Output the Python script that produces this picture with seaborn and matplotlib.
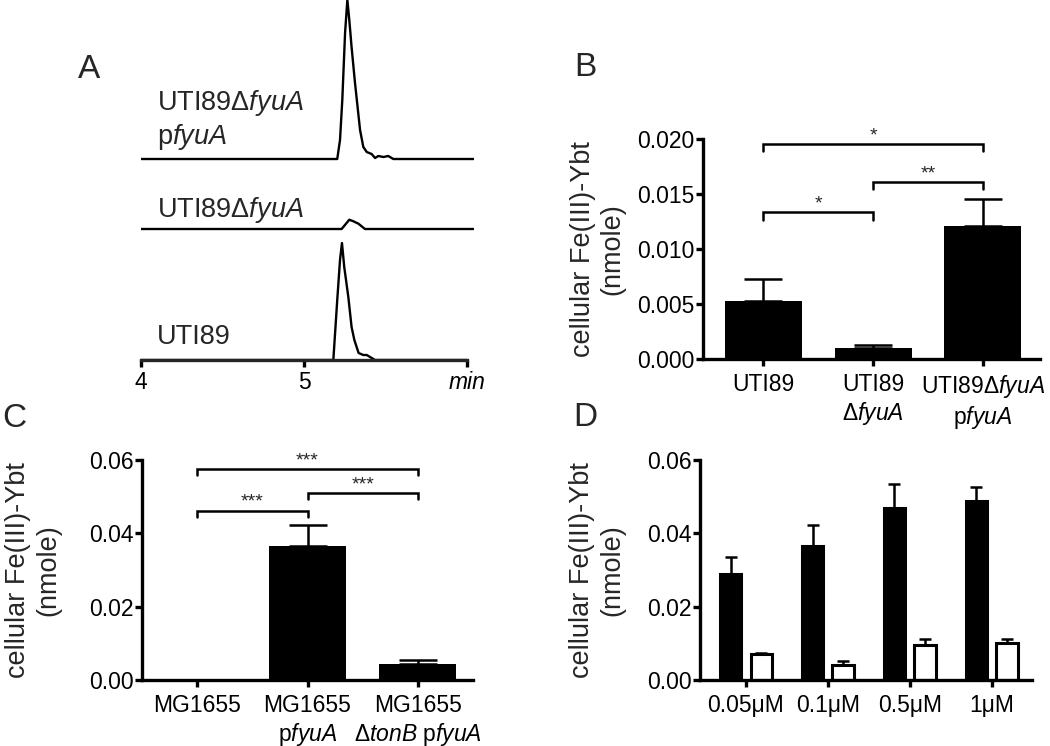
import matplotlib
matplotlib.use("Agg")
import matplotlib.pyplot as plt
import numpy as np
import pandas as pd
import seaborn as sns
from matplotlib.ticker import FormatStrFormatter

# ---- panel A: LC traces (time in min, signal in arbitrary units) ----
top_t = [4.0, 5.204, 5.221, 5.235, 5.252, 5.266, 5.278, 5.292, 5.313, 5.344, 5.364,
         5.385, 5.415, 5.436, 5.456, 5.487, 5.517, 5.548, 6.04]
top_y = [0, 0, 19, 59, 126, 159, 139, 112, 76, 29, 12, 7, 5, 1, 3, 2, 3, 0, 0]
mid_t = [4.0, 5.231, 5.278, 5.303, 5.334, 5.374, 6.04]
mid_y = [0, 0, 9.3, 7.7, 5.3, 0, 0]
bot_t = [4.0, 5.18, 5.204, 5.221, 5.233, 5.247, 5.272, 5.292, 5.309, 5.335, 5.364,
         5.385, 5.405, 5.436, 6.0]
bot_y = [0, 0, 60, 100, 117, 93, 63, 33, 20, 7, 5, 5, 3, 0, 0]

# ---- panel B ----
b_strains = ["UTI89", "UTI89\nΔ$\\mathit{fyuA}$", "UTI89Δ$\\mathit{fyuA}$\np$\\mathit{fyuA}$"]
b_mean = [0.00524, 0.00100, 0.01206]
b_sem = [0.00203, 0.00024, 0.00246]
b_pairs = [(0, 1), (1, 2), (0, 2)]
b_bracket_y = [0.01333, 0.01609, 0.01955]
b_stars = ["*", "**", "*"]

# ---- panel C ----
c_strains = ["MG1655", "MG1655\np$\\mathit{fyuA}$", "MG1655\nΔ$\\mathit{tonB}$ p$\\mathit{fyuA}$"]
c_mean = [0.0, 0.03664, 0.00427]
c_sem = [0.0, 0.00572, 0.00118]
c_pairs = [(0, 1), (1, 2), (0, 2)]
c_bracket_y = [0.04618, 0.05090, 0.05745]
c_stars = ["***", "***", "***"]

# ---- panel D ----
d_conc = ["0.05μM", "0.1μM", "0.5μM", "1μM"]
d_filled_mean = [0.02882, 0.03664, 0.04691, 0.04891]
d_filled_sem = [0.00463, 0.00572, 0.00645, 0.00364]
d_open_mean = [0.00709, 0.00409, 0.00964, 0.01018]
d_open_sem = [0.00018, 0.00118, 0.00163, 0.00109]

sns.set_theme(style="ticks")
plt.rcParams["font.family"] = ["Liberation Sans", "DejaVu Sans"]
plt.rcParams["mathtext.fontset"] = "custom"
plt.rcParams["mathtext.rm"] = "Liberation Sans"
plt.rcParams["mathtext.it"] = "Liberation Sans:italic"
plt.rcParams["mathtext.bf"] = "Liberation Sans:bold"

W, H = 1050, 746
fig = plt.figure(figsize=(W / 100, H / 100), dpi=100)

SPINE_W = 2.4
TICK_FS = 16.5
LABEL_FS = 19.5


def px_axes(left, top, right, bottom):
    return fig.add_axes([left / W, 1 - bottom / H, (right - left) / W, (bottom - top) / H])


def style_axes(ax):
    for s in ["top", "right"]:
        ax.spines[s].set_visible(False)
    for s in ["left", "bottom"]:
        ax.spines[s].set_linewidth(SPINE_W)
        ax.spines[s].set_color("black")
    ax.tick_params(axis="both", colors="black", width=SPINE_W, length=5, labelsize=TICK_FS)
    ax.tick_params(axis="y", pad=1)
    ax.tick_params(axis="x", pad=5)
    ax.set_xlabel("")


def add_brackets(ax, pairs, heights, labels, drop):
    for (i, j), h, lab in zip(pairs, heights, labels):
        ax.plot([i, i, j, j], [h - drop, h, h, h - drop], color="black", lw=1.8,
                clip_on=False, solid_joinstyle="miter")
        ax.annotate(lab, xy=((i + j) / 2, h), xytext=(0, 6), textcoords="offset points",
                    ha="center", va="center", fontsize=14, annotation_clip=False)


# ---- panel A ----
axA = px_axes(141, 0, 473.5, 360)
offsets = {"top": 201, "mid": 131, "bot": 0}
frames = []
for name, t, y in [("top", top_t, top_y), ("mid", mid_t, mid_y), ("bot", bot_t, bot_y)]:
    frames.append(pd.DataFrame({"time": t, "signal": np.array(y, dtype=float) + offsets[name],
                                "trace": name}))
dfA = pd.concat(frames, ignore_index=True)
sns.lineplot(data=dfA, x="time", y="signal", units="trace", estimator=None, sort=False,
             color="black", lw=1.7, ax=axA, legend=False)
axA.set_xlim(4, 6.04)
axA.set_ylim(0, 360)
for s in ["top", "right", "left"]:
    axA.spines[s].set_visible(False)
axA.spines["bottom"].set_linewidth(SPINE_W)
axA.spines["bottom"].set_bounds(4, 6)
axA.set_yticks([])
axA.set_xticks([4, 5, 6])
axA.set_xticklabels(["4", "5", "min"])
axA.get_xticklabels()[2].set_style("italic")
axA.tick_params(axis="x", width=SPINE_W, length=5, labelsize=TICK_FS, pad=3, colors="black")
axA.set_xlabel("")
axA.set_ylabel("")
axA.text(4.098, 240, "UTI89Δ$\\mathit{fyuA}$\np$\\mathit{fyuA}$", fontsize=LABEL_FS,
         ha="left", va="center")
axA.text(4.098, 150, "UTI89Δ$\\mathit{fyuA}$", fontsize=LABEL_FS, ha="left", va="center")
axA.text(4.098, 23, "UTI89", fontsize=LABEL_FS, ha="left", va="center")

# ---- panel B ----
axB = px_axes(703, 139, 1040, 359)
dfB = pd.DataFrame({"strain": b_strains, "mean": b_mean})
sns.barplot(data=dfB, x="strain", y="mean", color="black", width=0.7, errorbar=None,
            linewidth=0, saturation=1, ax=axB)
axB.errorbar(range(len(b_mean)), b_mean, yerr=[np.zeros(len(b_sem)), b_sem], fmt="none",
             ecolor="black", elinewidth=1.8, capsize=14, capthick=1.8)
axB.set_xlim(-0.55, 2.52)
axB.set_ylim(0, 0.020)
axB.set_yticks([0, 0.005, 0.010, 0.015, 0.020])
axB.yaxis.set_major_formatter(FormatStrFormatter("%.3f"))
style_axes(axB)
axB.set_ylabel("cellular Fe(III)-Ybt\n(nmole)", fontsize=LABEL_FS, ha="center", va="center")
axB.yaxis.set_label_coords(-0.312, 0.5)
add_brackets(axB, b_pairs, b_bracket_y, b_stars, 0.00065)

# ---- panel C ----
axC = px_axes(142, 460, 473, 680)
dfC = pd.DataFrame({"strain": c_strains, "mean": c_mean})
sns.barplot(data=dfC, x="strain", y="mean", color="black", width=0.7, errorbar=None,
            linewidth=0, saturation=1, ax=axC)
err_idx = [i for i, s in enumerate(c_sem) if s > 0]
axC.errorbar(err_idx, [c_mean[i] for i in err_idx],
             yerr=[np.zeros(len(err_idx)), [c_sem[i] for i in err_idx]], fmt="none",
             ecolor="black", elinewidth=1.8, capsize=14, capthick=1.8)
axC.set_xlim(-0.5, 2.5)
axC.set_ylim(0, 0.06)
axC.set_yticks([0, 0.02, 0.04, 0.06])
axC.yaxis.set_major_formatter(FormatStrFormatter("%.2f"))
style_axes(axC)
axC.set_ylabel("cellular Fe(III)-Ybt\n(nmole)", fontsize=LABEL_FS, ha="center", va="center")
axC.yaxis.set_label_coords(-0.329, 0.5)
add_brackets(axC, c_pairs, c_bracket_y, c_stars, 0.0016)

# ---- panel D ----
axD = px_axes(700, 460, 1032, 680)
dfD = pd.DataFrame({
    "conc": d_conc * 2,
    "mean": d_filled_mean + d_open_mean,
    "group": ["filled"] * len(d_conc) + ["open"] * len(d_conc),
})
sns.barplot(data=dfD, x="conc", y="mean", hue="group", palette=["black", "white"],
            width=0.75, gap=0.3, errorbar=None, edgecolor="black", linewidth=2.2,
            saturation=1, legend=False, ax=axD)
for cont, sems in zip(axD.containers, [d_filled_sem, d_open_sem]):
    xs = [p.get_x() + p.get_width() / 2 for p in cont.patches]
    ys = [p.get_height() for p in cont.patches]
    axD.errorbar(xs, ys, yerr=[np.zeros(len(sems)), sems], fmt="none", ecolor="black",
                 elinewidth=1.8, capsize=4.5, capthick=1.8)
axD.set_xlim(-0.56, 3.49)
axD.set_ylim(0, 0.06)
axD.set_yticks([0, 0.02, 0.04, 0.06])
axD.yaxis.set_major_formatter(FormatStrFormatter("%.2f"))
style_axes(axD)
axD.set_ylabel("cellular Fe(III)-Ybt\n(nmole)", fontsize=LABEL_FS, ha="center", va="center")
axD.yaxis.set_label_coords(-0.31, 0.5)

# panel letters
for letter, x, y in [("A", 89, 69), ("B", 585, 68), ("C", 14, 418), ("D", 585, 417)]:
    fig.text(x / W, 1 - y / H, letter, fontsize=24, ha="center", va="center")

fig.savefig("out.png", dpi=100)
